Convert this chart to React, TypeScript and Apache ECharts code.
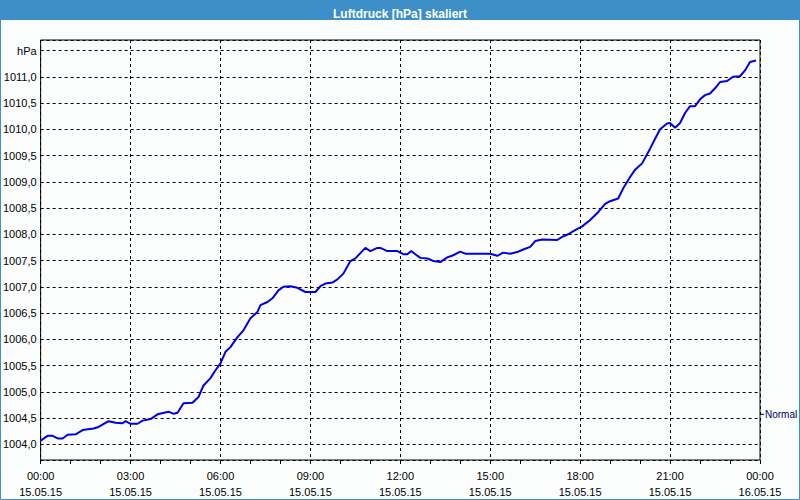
import React, { useEffect, useRef } from "react";
import * as echarts from "echarts";

const titleText = "Luftdruck [hPa] skaliert";
const unitLabel = "hPa";
const normalLabel = "Normal";
const normalValue = 1004.57;
const dayLabels = ["15.05.15", "16.05.15"];

const times = [
  "00:00", "00:14", "00:24", "00:34", "00:44", "00:54", "01:10", "01:24", "01:46", "01:56",
  "02:16", "02:30", "02:44", "02:50", "03:00", "03:14", "03:24", "03:40", "03:54", "04:16",
  "04:26", "04:34", "04:46", "05:04", "05:16", "05:26", "05:40", "05:50", "06:00", "06:10",
  "06:20", "06:34", "06:46", "07:00", "07:14", "07:20", "07:34", "07:44", "07:56", "08:06",
  "08:20", "08:34", "08:50", "09:10", "09:20", "09:30", "09:44", "09:54", "10:06", "10:20",
  "10:30", "10:40", "10:50", "11:00", "11:14", "11:20", "11:34", "11:54", "12:06", "12:14",
  "12:22", "12:30", "12:40", "12:54", "13:06", "13:20", "13:34", "13:46", "14:00", "14:10",
  "14:26", "15:00", "15:14", "15:26", "15:40", "15:54", "16:06", "16:20", "16:30", "16:44",
  "17:14", "17:24", "17:36", "17:50", "18:04", "18:20", "18:36", "18:50", "19:00", "19:16",
  "19:26", "19:40", "19:50", "20:04", "20:20", "20:30", "20:40", "20:54", "21:00", "21:10",
  "21:20", "21:30", "21:40", "21:50", "22:00", "22:10", "22:20", "22:30", "22:40", "22:54",
  "23:06", "23:20", "23:30", "23:40", "23:52",
];

const pressure = [
  1004.07, 1004.16, 1004.16, 1004.11, 1004.11, 1004.18, 1004.19, 1004.27, 1004.3, 1004.33,
  1004.44, 1004.41, 1004.4, 1004.44, 1004.39, 1004.39, 1004.45, 1004.48, 1004.57, 1004.62,
  1004.58, 1004.6, 1004.78, 1004.79, 1004.9, 1005.12, 1005.26, 1005.41, 1005.54, 1005.76,
  1005.85, 1006.04, 1006.17, 1006.4, 1006.52, 1006.65, 1006.71, 1006.78, 1006.93, 1007.0,
  1007.01, 1006.98, 1006.9, 1006.9, 1007.01, 1007.06, 1007.08, 1007.14, 1007.25, 1007.49,
  1007.54, 1007.64, 1007.74, 1007.68, 1007.74, 1007.74, 1007.68, 1007.68, 1007.62, 1007.62,
  1007.68, 1007.62, 1007.55, 1007.54, 1007.49, 1007.47, 1007.56, 1007.6, 1007.67, 1007.63,
  1007.63, 1007.63, 1007.59, 1007.65, 1007.63, 1007.66, 1007.71, 1007.76, 1007.87, 1007.9,
  1007.89, 1007.95, 1008.0, 1008.08, 1008.15, 1008.27, 1008.42, 1008.58, 1008.63, 1008.68,
  1008.87, 1009.09, 1009.23, 1009.35, 1009.63, 1009.82, 1010.0, 1010.11, 1010.12, 1010.03,
  1010.12, 1010.31, 1010.44, 1010.44, 1010.57, 1010.65, 1010.68, 1010.78, 1010.9, 1010.92,
  1011.0, 1011.01, 1011.12, 1011.28, 1011.31,
];

const toMinutes = (t: string) => {
  const [h, m] = t.split(":").map(Number);
  return h * 60 + m;
};

const FONT = "'Liberation Sans', Arial, sans-serif";

export default function App() {
  const ref = useRef<HTMLDivElement>(null);

  useEffect(() => {
    document.body.style.margin = "0";
    if (!ref.current) return;
    const chart = echarts.init(ref.current, undefined, { renderer: "svg" });
    const data = times.map((t, i) => [toMinutes(t), pressure[i]]);
    chart.setOption({
      animation: false,
      backgroundColor: "#fbfdfd",
      title: {
        text: titleText,
        left: "center",
        top: 3,
        textStyle: { color: "#ffffff", fontWeight: "bold", fontSize: 12, fontFamily: FONT },
      },
      graphic: [
        {
          type: "rect",
          z: -1,
          shape: { x: 0, y: 0, width: 800, height: 20 },
          style: { fill: "#3c8fc7" },
          silent: true,
        },
        {
          type: "rect",
          z: -1,
          shape: { x: 0.5, y: 0.5, width: 799, height: 499 },
          style: { fill: "none", stroke: "#3c8fc7", lineWidth: 1 },
          silent: true,
        },
      ],
      grid: {
        left: 40,
        top: 40,
        width: 720,
        height: 420,
        show: true,
        borderColor: "#000",
        borderWidth: 1,
        backgroundColor: "transparent",
      },
      xAxis: {
        type: "value",
        min: 0,
        max: 1440,
        interval: 180,
        axisLine: { show: false },
        axisTick: { show: true, length: 4, lineStyle: { color: "#000" } },
        minorTick: { show: true, splitNumber: 3, length: 4, lineStyle: { color: "#000" } },
        splitLine: { show: true, lineStyle: { color: "#000", type: [3, 3], width: 1 } },
        axisLabel: {
          color: "#000",
          fontSize: 11,
          fontFamily: FONT,
          lineHeight: 16,
          margin: 8,
          formatter: (v: number) => {
            const h = Math.floor(v / 60) % 24;
            const day = v >= 1440 ? dayLabels[1] : dayLabels[0];
            return `${String(h).padStart(2, "0")}:00\n${day}`;
          },
        },
      },
      yAxis: {
        type: "value",
        min: 1003.7,
        max: 1011.7,
        splitNumber: 16,
        minInterval: 0.5,
        maxInterval: 0.5,
        axisLine: { show: false },
        axisTick: { show: false },
        splitLine: { show: true, lineStyle: { color: "#000", type: [3, 3], width: 1 } },
        axisLabel: {
          color: "#000",
          fontSize: 11,
          fontFamily: FONT,
          margin: 4,
          showMinLabel: false,
          showMaxLabel: false,
          formatter: (v: number) => {
            if (Math.abs(v * 2 - Math.round(v * 2)) > 1e-6) return "";
            if (Math.abs(v - 1011.5) < 1e-6) return unitLabel;
            return v.toFixed(1).replace(".", ",");
          },
        },
      },
      series: [
        {
          type: "line",
          data,
          showSymbol: false,
          symbol: "none",
          clip: false,
          lineStyle: { color: "#0000e6", width: 2 },
          markPoint: {
            silent: true,
            symbol: "rect",
            symbolSize: [4, 1],
            symbolOffset: [2, 0],
            itemStyle: { color: "#000" },
            label: {
              show: true,
              position: "right",
              distance: 1,
              formatter: normalLabel,
              color: "#000060",
              fontSize: 10,
              fontFamily: FONT,
            },
            data: [{ coord: [1440, normalValue] }],
          },
        },
      ],
    });
    return () => chart.dispose();
  }, []);

  return (
    <div
      ref={ref}
      style={{ position: "fixed", left: 0, top: 0, width: 800, height: 500 }}
    />
  );
}
